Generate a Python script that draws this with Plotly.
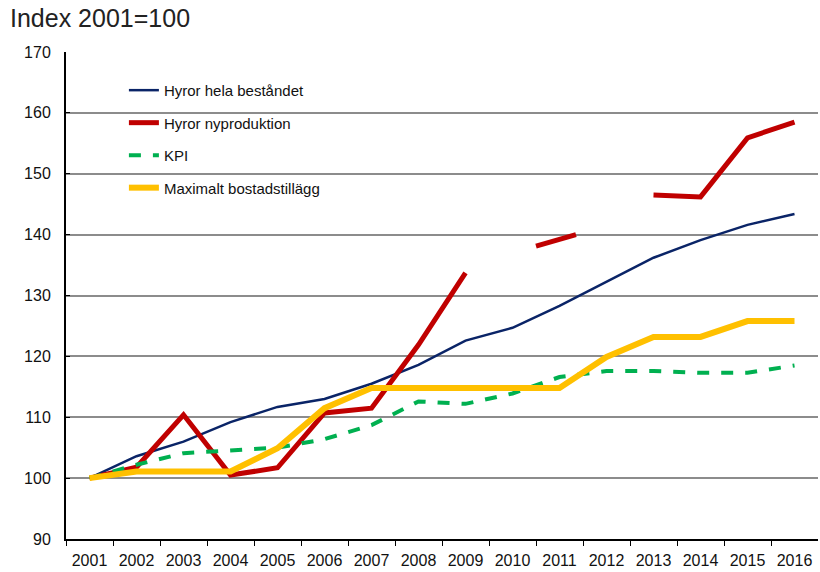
import plotly.graph_objects as go

years = list(range(2001, 2017))
year_labels = [str(y) for y in years]

hyror_hela = [100, 103.6, 106.0, 109.2, 111.7, 113.0, 115.5, 118.6, 122.6, 124.7,
              128.3, 132.2, 136.2, 139.1, 141.6, 143.4]

# nyproduktion has gaps; the 2010/2011 piece sits between the year marks
nypro_x = [2001, 2002, 2003, 2004, 2005, 2006, 2007, 2008, 2009, None,
           2010.5, 2011.35, None, 2013, 2014, 2015, 2016]
nypro = [100, 101.8, 110.4, 100.5, 101.7, 110.7, 111.5, 121.9, 133.7, None,
         138.1, 140.0, None, 146.5, 146.2, 155.9, 158.5]

kpi = [100, 102.2, 104.1, 104.6, 105.0, 106.4, 108.7, 112.6, 112.2, 113.9,
       116.6, 117.6, 117.6, 117.3, 117.3, 118.5]

bostadstillagg = [100, 101.1, 101.1, 101.1, 104.9, 111.5, 114.8, 114.8, 114.8, 114.8,
                  114.8, 119.9, 123.2, 123.2, 125.8, 125.8]

half_years = [y + 0.5 for y in range(2000, 2016)]

FONT = "Liberation Sans Narrow, Arial Narrow, Liberation Sans, Arial, sans-serif"

fig = go.Figure()
fig.add_trace(go.Scatter(x=years, y=hyror_hela, name="Hyror hela beståndet",
                         mode="lines", line=dict(color="#0a2467", width=2.5),
                         legendgroup="a"))
fig.add_trace(go.Scatter(x=nypro_x, y=nypro, name="Hyror nyproduktion",
                         mode="lines", line=dict(color="#c00000", width=5),
                         connectgaps=False, legendgroup="b"))
fig.add_trace(go.Scatter(x=years, y=kpi, name="KPI",
                         mode="lines", line=dict(color="#00b050", width=4, dash="dash"),
                         legendgroup="c"))
fig.add_trace(go.Scatter(x=years, y=bostadstillagg, name="Maximalt bostadstillägg",
                         mode="lines", line=dict(color="#ffc000", width=6),
                         legendgroup="d"))

fig.add_annotation(text="Index 2001=100", xref="paper", yref="paper",
                   x=-0.077, y=1.069, xanchor="left", yanchor="middle", showarrow=False,
                   font=dict(family="Liberation Sans, Arial, sans-serif", size=25, color="#222"))

fig.update_layout(
    width=820, height=572,
    margin=dict(l=66, r=2, t=52, b=33),
    paper_bgcolor="white", plot_bgcolor="white",
    font=dict(family=FONT, size=15, color="#111"),
    showlegend=True,
    legend=dict(x=0.077, y=0.955, xanchor="left", yanchor="top",
                bgcolor="rgba(0,0,0,0)", tracegroupgap=10,
                font=dict(family=FONT, size=15, color="#111")),
    xaxis=dict(range=[2000.5, 2016.5], tickmode="array", tickvals=years,
               ticktext=year_labels, ticks="", showgrid=False, zeroline=False,
               showline=True, linecolor="black", linewidth=2, automargin=False,
               ticklabelstandoff=6, tickfont=dict(family=FONT, size=16),
               minor=dict(tickmode="array", tickvals=half_years, ticks="outside",
                          ticklen=5, tickwidth=1, tickcolor="black", showgrid=False)),
    xaxis2=dict(overlaying="x", matches="x", anchor="y", side="bottom",
                range=[2000.5, 2016.5], tickmode="array", tickvals=half_years,
                ticks="inside", ticklen=5, tickwidth=1, tickcolor="black",
                showticklabels=False, showgrid=False, zeroline=False, showline=False,
                automargin=False),
    yaxis=dict(range=[90, 170], dtick=10, showgrid=True, gridcolor="#8c8c8c",
               gridwidth=2, zeroline=False, showline=True, linecolor="black",
               linewidth=2, ticks="inside", ticklen=4, tickcolor="black",
               automargin=False, ticklabelstandoff=10, tickfont=dict(family=FONT, size=16)),
)

# drop the default 8px page margin so the figure fills the window
fig.write_html("out.html", config={"displayModeBar": False},
               post_script="document.body.style.margin='0';")
